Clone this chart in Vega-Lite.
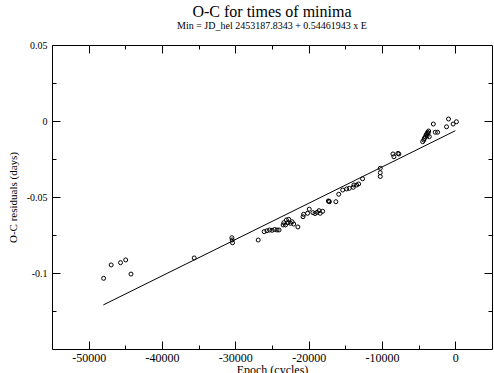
{
  "$schema": "https://vega.github.io/schema/vega-lite/v6.json",
  "width": 440,
  "height": 304,
  "autosize": "none",
  "padding": {"left": 52, "top": 45, "right": 2, "bottom": 24},
  "background": "white",
  "config": {
    "view": {"stroke": "black", "strokeWidth": 1},
    "font": "Liberation Serif",
    "axis": {"domain": false, "grid": false, "tickColor": "black", "tickWidth": 1, "labelColor": "black", "titleColor": "black", "labelFont": "Liberation Serif", "titleFont": "Liberation Serif", "titleFontWeight": "normal"}
  },
  "title": {
    "text": "O-C for times of minima",
    "subtitle": "Min = JD_hel 2453187.8343 + 0.54461943 x E",
    "font": "Liberation Serif",
    "subtitleFont": "Liberation Serif",
    "fontSize": 16,
    "fontWeight": "normal",
    "subtitleFontSize": 10,
    "color": "black",
    "subtitleColor": "black",
    "offset": 9,
    "subtitlePadding": 1,
    "anchor": "middle"
  },
  "datasets": {
    "obs": [
      {"E": -47960, "OC": -0.1035},
      {"E": -46930, "OC": -0.0947},
      {"E": -45660, "OC": -0.0932},
      {"E": -44950, "OC": -0.0914},
      {"E": -44230, "OC": -0.1007},
      {"E": -35610, "OC": -0.0901},
      {"E": -30470, "OC": -0.0768},
      {"E": -30430, "OC": -0.0783},
      {"E": -30380, "OC": -0.0801},
      {"E": -26880, "OC": -0.0783},
      {"E": -26070, "OC": -0.0728},
      {"E": -25690, "OC": -0.0722},
      {"E": -25330, "OC": -0.0717},
      {"E": -24990, "OC": -0.0719},
      {"E": -24650, "OC": -0.0714},
      {"E": -24310, "OC": -0.0717},
      {"E": -24040, "OC": -0.0717},
      {"E": -23480, "OC": -0.0684},
      {"E": -23390, "OC": -0.0669},
      {"E": -23160, "OC": -0.0684},
      {"E": -23030, "OC": -0.0651},
      {"E": -22850, "OC": -0.0669},
      {"E": -22720, "OC": -0.0647},
      {"E": -22490, "OC": -0.0673},
      {"E": -22260, "OC": -0.0663},
      {"E": -22040, "OC": -0.0678},
      {"E": -21470, "OC": -0.0697},
      {"E": -20770, "OC": -0.0630},
      {"E": -20690, "OC": -0.0614},
      {"E": -20150, "OC": -0.0607},
      {"E": -19920, "OC": -0.0580},
      {"E": -19420, "OC": -0.0603},
      {"E": -19130, "OC": -0.0609},
      {"E": -18860, "OC": -0.0601},
      {"E": -18590, "OC": -0.0590},
      {"E": -18430, "OC": -0.0607},
      {"E": -18090, "OC": -0.0594},
      {"E": -17310, "OC": -0.0526},
      {"E": -17250, "OC": -0.0529},
      {"E": -17170, "OC": -0.0531},
      {"E": -16290, "OC": -0.0531},
      {"E": -15900, "OC": -0.0482},
      {"E": -15360, "OC": -0.0454},
      {"E": -14820, "OC": -0.0447},
      {"E": -14460, "OC": -0.0443},
      {"E": -13920, "OC": -0.0436},
      {"E": -13830, "OC": -0.0421},
      {"E": -13460, "OC": -0.0421},
      {"E": -13190, "OC": -0.0414},
      {"E": -12650, "OC": -0.0380},
      {"E": -10240, "OC": -0.0311},
      {"E": -10240, "OC": -0.0340},
      {"E": -10240, "OC": -0.0365},
      {"E": -8510, "OC": -0.0217},
      {"E": -8380, "OC": -0.0235},
      {"E": -7830, "OC": -0.0213},
      {"E": -7700, "OC": -0.0217},
      {"E": -4450, "OC": -0.0136},
      {"E": -4300, "OC": -0.0125},
      {"E": -4220, "OC": -0.0114},
      {"E": -4100, "OC": -0.0105},
      {"E": -3990, "OC": -0.0092},
      {"E": -3900, "OC": -0.0085},
      {"E": -3850, "OC": -0.0098},
      {"E": -3780, "OC": -0.0074},
      {"E": -3700, "OC": -0.0080},
      {"E": -3640, "OC": -0.0066},
      {"E": -3550, "OC": -0.0103},
      {"E": -3000, "OC": -0.0020},
      {"E": -2730, "OC": -0.0074},
      {"E": -2420, "OC": -0.0074},
      {"E": -1200, "OC": -0.0038},
      {"E": -930, "OC": 0.0013},
      {"E": -300, "OC": -0.0020},
      {"E": 150, "OC": -0.0005}
    ],
    "fit": [
      {"E": -48000, "OC": -0.121},
      {"E": 0, "OC": -0.0064}
    ]
  },
  "layer": [
    {
      "data": {"name": "obs"},
      "mark": {"type": "point", "shape": "circle", "filled": false, "color": "black", "size": 16, "strokeWidth": 1, "opacity": 1},
      "encoding": {
        "x": {
          "field": "E", "type": "quantitative",
          "scale": {"domain": [-55000, 5000], "nice": false, "zero": false},
          "axis": {
            "orient": "bottom",
            "values": [-50000, -45000, -40000, -35000, -30000, -25000, -20000, -15000, -10000, -5000, 0],
            "tickSize": {"condition": {"test": "datum.value % 10000 == 0", "value": -8}, "value": -4},
            "labelExpr": "datum.value % 10000 == 0 ? (datum.value < 0 ? '-' : '') + format(abs(datum.value), 'd') : ''",
            "labelFontSize": 12,
            "labelPadding": 11,
            "title": "Epoch (cycles)",
            "titleFontSize": 12,
            "titlePadding": 1
          }
        },
        "y": {
          "field": "OC", "type": "quantitative",
          "scale": {"domain": [-0.15, 0.05], "nice": false, "zero": false},
          "axis": {
            "orient": "left",
            "values": [-0.125, -0.1, -0.075, -0.05, -0.025, 0, 0.025, 0.05],
            "tickSize": {"condition": {"test": "abs(datum.value * 20 - round(datum.value * 20)) < 0.000001", "value": -8}, "value": -4},
            "labelExpr": "abs(datum.value * 20 - round(datum.value * 20)) < 0.000001 ? (datum.value == 0 ? '0' : (datum.value < 0 ? '-' : '') + format(abs(datum.value), '~g')) : ''",
            "labelFontSize": 10,
            "labelPadding": 13,
            "title": "O-C residuals (days)",
            "titleFontSize": 11,
            "titlePadding": 8
          }
        }
      }
    },
    {
      "data": {"name": "fit"},
      "mark": {"type": "line", "color": "black", "strokeWidth": 1},
      "encoding": {
        "x": {
          "field": "E", "type": "quantitative",
          "scale": {"domain": [-55000, 5000], "nice": false, "zero": false},
          "axis": {
            "orient": "top",
            "values": [-50000, -45000, -40000, -35000, -30000, -25000, -20000, -15000, -10000, -5000, 0],
            "tickSize": {"condition": {"test": "datum.value % 10000 == 0", "value": -8}, "value": -4},
            "labels": false,
            "title": null
          }
        },
        "y": {
          "field": "OC", "type": "quantitative",
          "scale": {"domain": [-0.15, 0.05], "nice": false, "zero": false},
          "axis": {
            "orient": "right",
            "values": [-0.125, -0.1, -0.075, -0.05, -0.025, 0, 0.025],
            "tickSize": {"condition": {"test": "abs(datum.value * 20 - round(datum.value * 20)) < 0.000001", "value": -8}, "value": -4},
            "labels": false,
            "title": null
          }
        }
      }
    }
  ],
  "resolve": {"axis": {"x": "independent", "y": "independent"}}
}
